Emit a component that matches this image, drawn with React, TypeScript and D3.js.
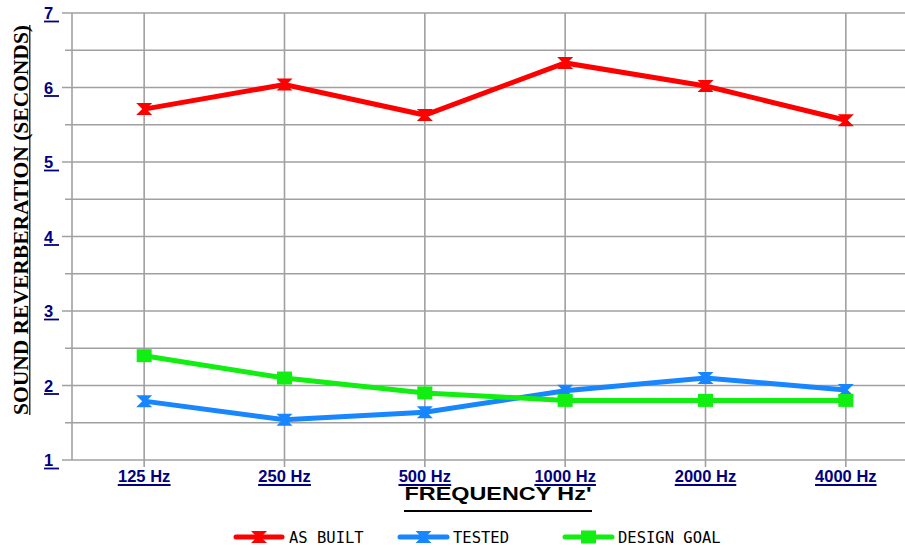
import React from "react";
import * as d3 from "d3";

const categories = ["125 Hz", "250 Hz", "500 Hz", "1000 Hz", "2000 Hz", "4000 Hz"];
const asBuilt = [5.71, 6.04, 5.63, 6.33, 6.02, 5.56];
const tested = [1.79, 1.54, 1.64, 1.93, 2.1, 1.94];
const designGoal = [2.4, 2.1, 1.9, 1.8, 1.8, 1.8];
const yTicks = [1, 2, 3, 4, 5, 6, 7];
const yHalfTicks = [1.5, 2.5, 3.5, 4.5, 5.5, 6.5];
const seriesNames = ["AS BUILT", "TESTED", "DESIGN GOAL"];

const W = 905;
const H = 548;
const left = 72;
const top = 13;
const bottom = 460;

const x = d3.scalePoint<string>().domain(categories).range([74, 916]).padding(0.5);
const y = d3.scaleLinear().domain([1, 7]).range([bottom, top]);

const hourglass = "M-8,-6 L8,-6 L2,0 L8,6 L-8,6 L-2,0 Z";

function Marker({ kind, color, cx, cy }: { kind: string; color: string; cx: number; cy: number }) {
  if (kind === "square") {
    return <rect x={cx - 7.5} y={cy - 6.5} width={15} height={13} fill={color} />;
  }
  return <path d={hourglass} transform={`translate(${cx},${cy})`} fill={color} />;
}

export default function App() {
  const series = [
    { name: seriesNames[0], values: asBuilt, color: "#ff0000", kind: "hourglass" },
    { name: seriesNames[1], values: tested, color: "#1786ff", kind: "hourglass" },
    { name: seriesNames[2], values: designGoal, color: "#11ee11", kind: "square" },
  ];
  const line = d3
    .line<number>()
    .x((_, i) => x(categories[i]) as number)
    .y((d) => y(d));
  const legendPos = [
    { x1: 236, x2: 282, tx: 289 },
    { x1: 400, x2: 447, tx: 453 },
    { x1: 565, x2: 612, tx: 618 },
  ];
  const grid = "#a0a0a0";
  return (
    <svg
      width={W}
      height={H}
      style={{ position: "absolute", left: 0, top: 0, background: "#fff" }}
    >
      {/* horizontal grid */}
      {yTicks.map((t) => (
        <line key={"g" + t} x1={62} x2={W} y1={y(t)} y2={y(t)} stroke={grid} strokeWidth={1.6} />
      ))}
      {yHalfTicks.map((t) => (
        <line key={"h" + t} x1={65} x2={W} y1={y(t)} y2={y(t)} stroke={grid} strokeWidth={1.6} />
      ))}
      {/* left border */}
      <line x1={left} x2={left} y1={top} y2={bottom} stroke={grid} strokeWidth={1.6} />
      {/* vertical grid */}
      {categories.map((c) => (
        <line key={c} x1={x(c)} x2={x(c)} y1={top} y2={bottom + 7} stroke={grid} strokeWidth={1.6} />
      ))}
      {/* y tick labels */}
      {yTicks.map((t) => (
        <g key={"l" + t}>
          <text
            x={44}
            y={y(t) + 6}
            fontFamily="Liberation Sans, Arial, sans-serif"
            fontWeight="bold"
            fontSize={16.5}
            fill="#000080"
          >
            {t}
          </text>
          <line x1={44} x2={59} y1={y(t) + 8.5} y2={y(t) + 8.5} stroke="#000080" strokeWidth={1.8} />
        </g>
      ))}
      {/* x tick labels */}
      {categories.map((c) => (
        <g key={"x" + c}>
          <text
            x={x(c)}
            y={482}
            textAnchor="middle"
            fontFamily="Liberation Sans, Arial, sans-serif"
            fontWeight="bold"
            fontSize={16.5}
            fill="#000080"
          >
            {c}
          </text>
        </g>
      ))}
      {categories.map((c) => {
        const w = c.length * 8.8;
        return (
          <line
            key={"u" + c}
            x1={(x(c) as number) - w / 2}
            x2={(x(c) as number) + w / 2}
            y1={485}
            y2={485}
            stroke="#000080"
            strokeWidth={1.8}
          />
        );
      })}
      {/* x title */}
      <text
        x={498}
        y={500}
        textAnchor="middle"
        fontFamily="Liberation Sans, Arial, sans-serif"
        fontWeight="bold"
        fontSize={18.5}
        textLength={187}
        lengthAdjust="spacingAndGlyphs"
        fill="#000"
      >
        FREQUENCY Hz'
      </text>
      <line x1={404} x2={592} y1={511} y2={511} stroke="#000" strokeWidth={2.2} />
      {/* y title */}
      <g transform="translate(28,220) rotate(-90)">
        <text
          x={0}
          y={0}
          textAnchor="middle"
          fontFamily="Liberation Serif, Times New Roman, serif"
          fontWeight="bold"
          fontSize={21}
          textLength={390}
          lengthAdjust="spacingAndGlyphs"
          fill="#000"
        >
          SOUND REVERBERATION (SECONDS)
        </text>
        <line x1={-195} x2={195} y1={1.8} y2={1.8} stroke="#000" strokeWidth={1.2} />
      </g>
      {/* series */}
      {series.map((s) => (
        <g key={s.name}>
          <path d={line(s.values) || ""} fill="none" stroke={s.color} strokeWidth={5} />
          {s.values.map((v, i) => (
            <Marker key={i} kind={s.kind} color={s.color} cx={x(categories[i]) as number} cy={y(v)} />
          ))}
        </g>
      ))}
      {/* legend */}
      {series.map((s, i) => {
        const p = legendPos[i];
        const cx = (p.x1 + p.x2) / 2;
        return (
          <g key={"leg" + s.name}>
            <line x1={p.x1} x2={p.x2} y1={537} y2={537} stroke={s.color} strokeWidth={5} strokeLinecap="round" />
            <Marker kind={s.kind} color={s.color} cx={cx} cy={537} />
            <text
              x={p.tx}
              y={543}
              fontFamily="DejaVu Sans Mono, monospace"
              fontSize={15.5}
              fill="#000"
            >
              {s.name}
            </text>
          </g>
        );
      })}
    </svg>
  );
}
